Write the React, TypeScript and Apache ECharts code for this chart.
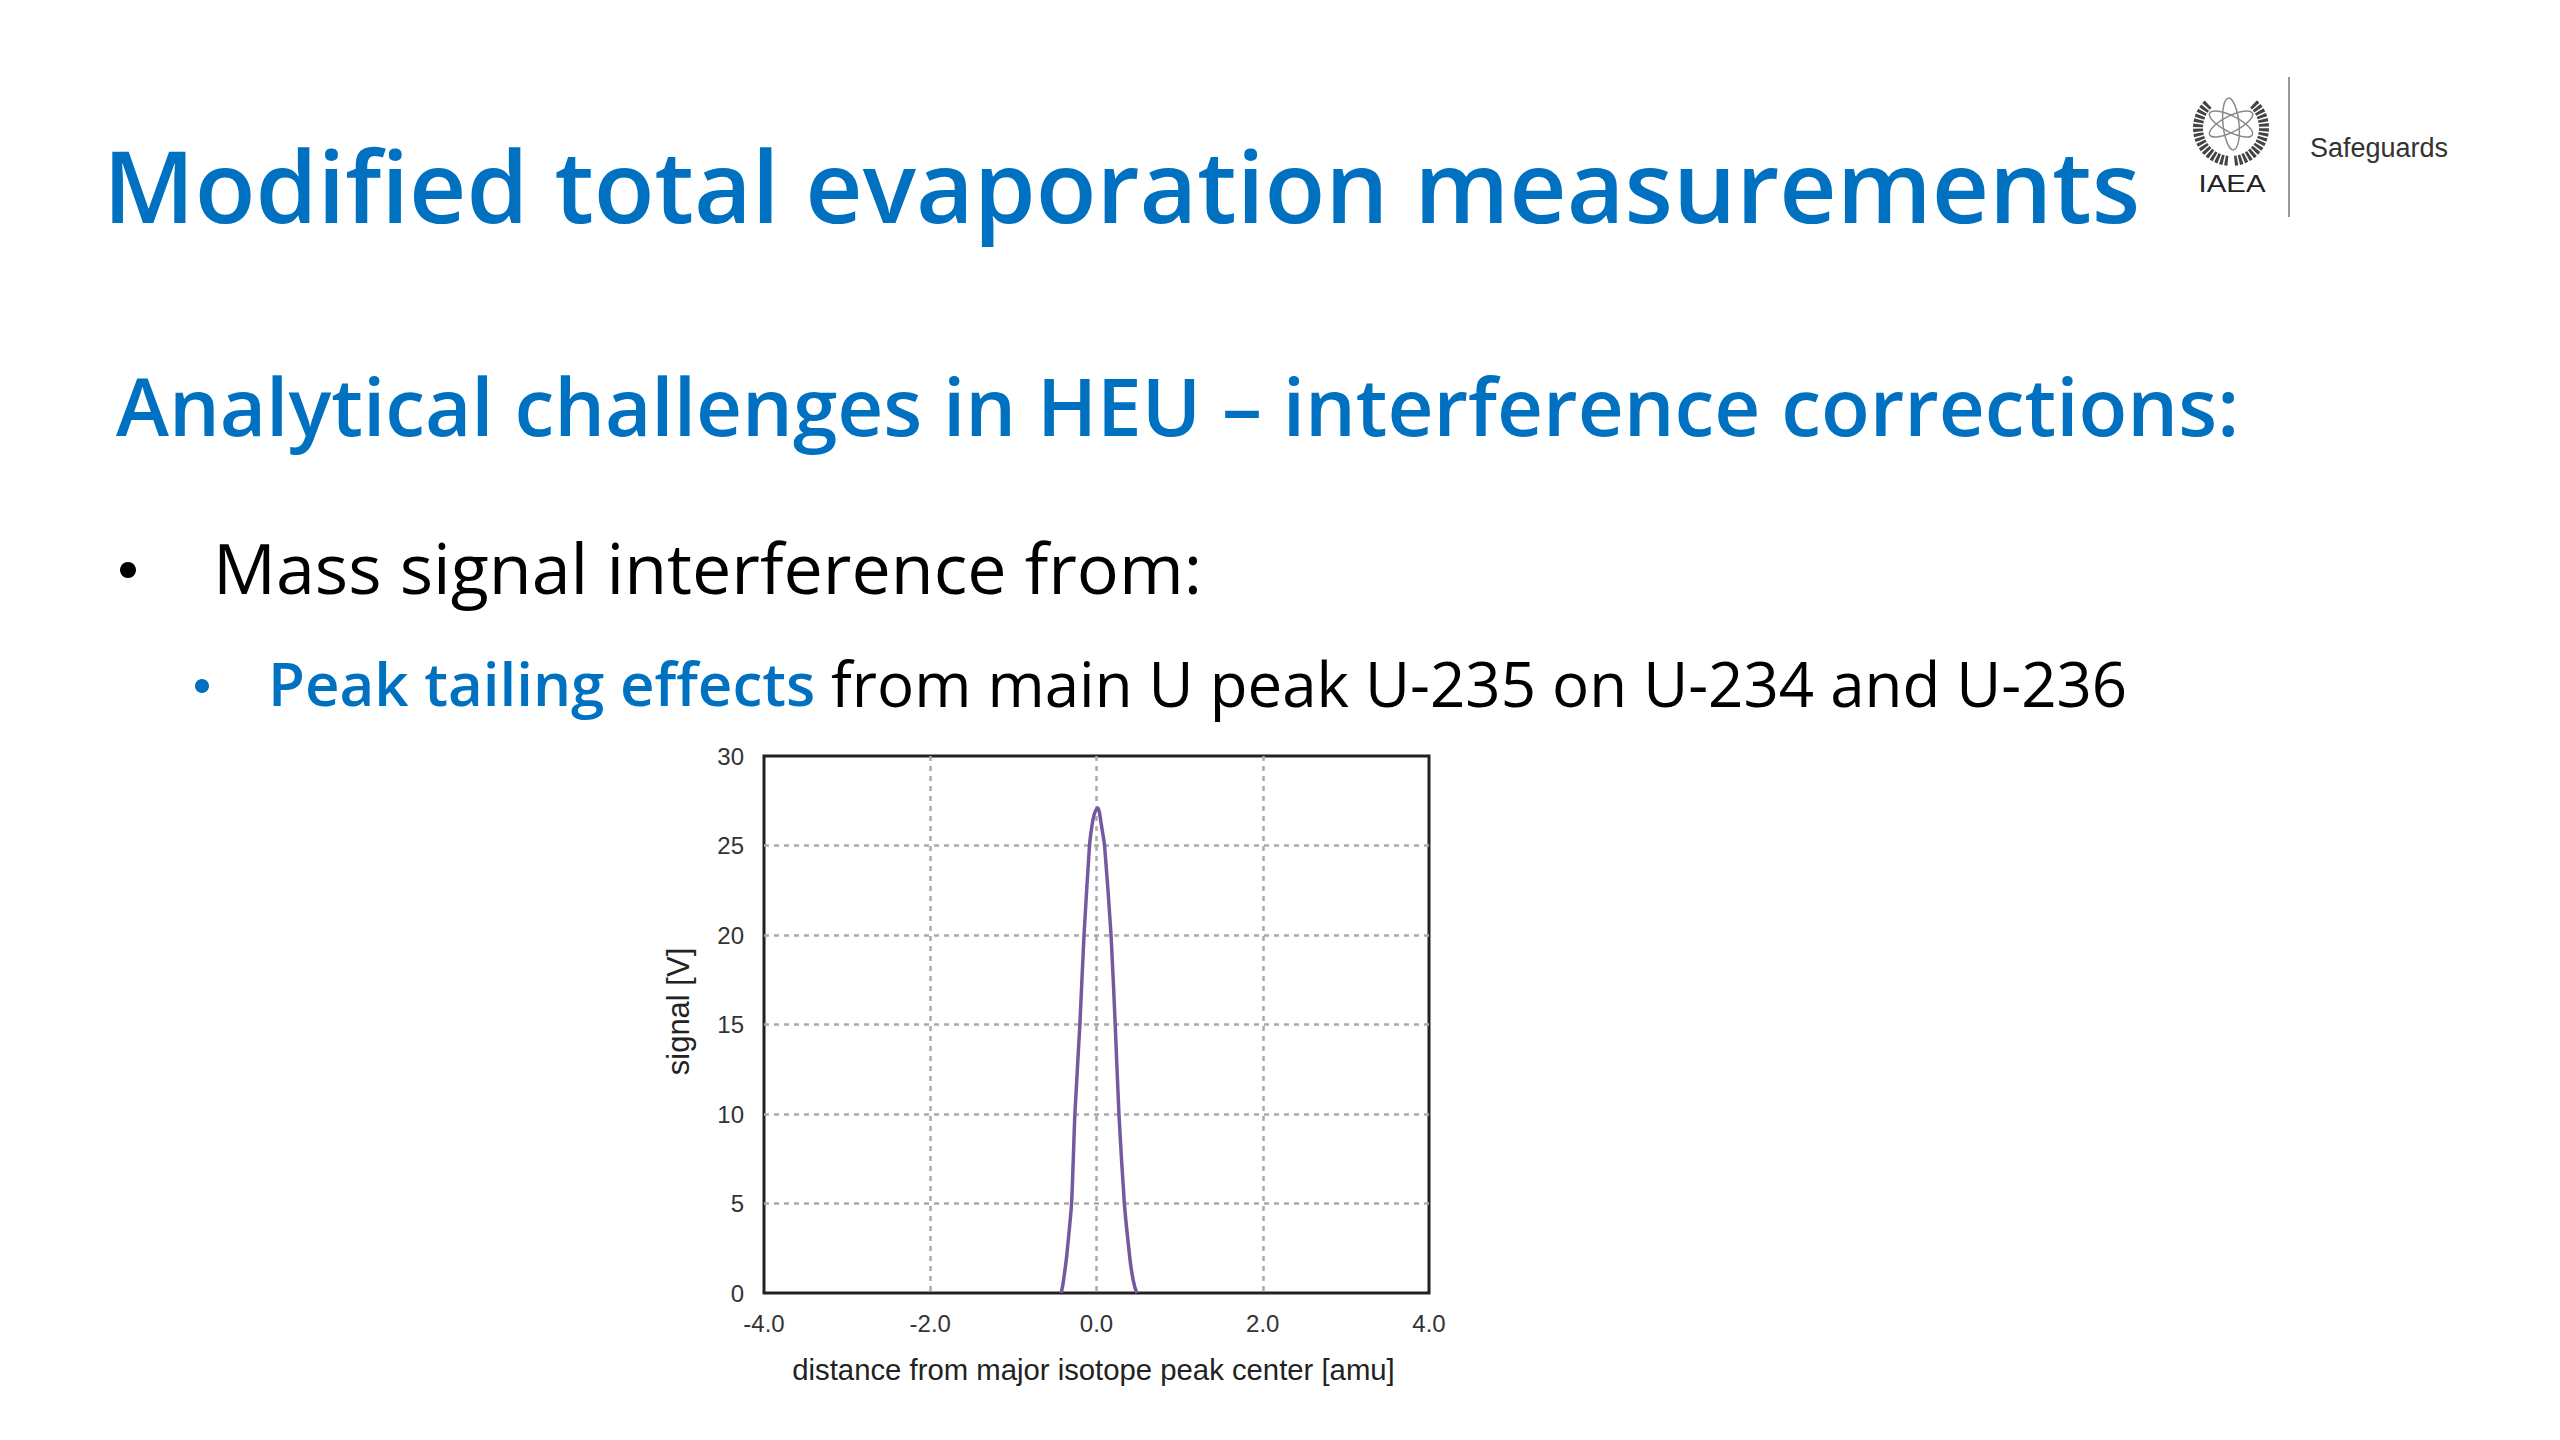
import React, { useEffect, useRef } from "react";
import * as echarts from "echarts";

const titleText = "Modified total evaporation measurements";
const subtitleText = "Analytical challenges in HEU – interference corrections:";
const bulletText = "Mass signal interference from:";
const subBulletLead = "Peak tailing effects";
const subBulletRest = "from main U peak U-235 on U-234 and U-236";
const xAxisName = "distance from major isotope peak center [amu]";
const yAxisName = "signal [V]";

const distance = [-0.425, -0.405, -0.385, -0.36, -0.3, -0.26, -0.2, -0.15, -0.084, -0.055, -0.03, -0.005, 0.015, 0.035, 0.06, 0.097, 0.175, 0.225, 0.27, 0.335, 0.4, 0.43, 0.46, 0.485];
const signal = [0, 0.45, 1.1, 2, 5, 10, 15, 20, 25, 26.1, 26.7, 27.0, 27.1, 26.85, 26.1, 25, 20, 15, 10, 5, 2, 1.0, 0.35, 0];

const FONT = "'Open Sans', 'Noto Sans', sans-serif";
const BLUE = "#0070C0";

export default function App() {
  const ref = useRef<HTMLDivElement>(null);
  useEffect(() => {
    const chart = echarts.init(ref.current!, undefined, { renderer: "svg", width: 2560, height: 1440 });
    const leafArc = (side: number) => ({
      type: "arc",
      shape: {
        cx: 2231, cy: 128, r: 33,
        startAngle: side < 0 ? Math.PI * 0.53 : Math.PI * 1.74,
        endAngle: side < 0 ? Math.PI * 1.26 : Math.PI * 0.47,
      },
      style: { stroke: "#444", fill: "none", lineWidth: 10, lineDash: [3, 1.5] },
    });
    const orbit = (rx: number, ry: number, rotation: number) => ({
      type: "ellipse",
      x: 2231, y: 124, rotation,
      shape: { cx: 0, cy: 0, rx, ry },
      style: { stroke: "#8a8a8a", fill: "none", lineWidth: 1.5 },
    });
    chart.setOption({
      animation: false,
      backgroundColor: "#fff",
      grid: { left: 764, right: 1131, top: 756, bottom: 147, show: true, borderColor: "#222", borderWidth: 3, backgroundColor: "transparent" },
      xAxis: {
        type: "value", min: -4, max: 4, interval: 2,
        name: xAxisName, nameLocation: "middle", nameGap: 62,
        nameTextStyle: { fontFamily: "'Liberation Sans'", fontSize: 29.3, color: "#222", padding: [0, 6, 0, 0] },
        axisLine: { show: false }, axisTick: { show: false },
        axisLabel: { fontFamily: "'Liberation Sans'", fontSize: 24, color: "#333", margin: 18, formatter: (v: number) => v.toFixed(1) },
        splitLine: { show: true, showMinLine: false, showMaxLine: false, lineStyle: { color: "#aaa", type: [5, 5], width: 2.5 } },
      },
      yAxis: {
        type: "value", min: 0, max: 30, interval: 5,
        name: yAxisName, nameLocation: "middle", nameGap: 70,
        nameTextStyle: { fontFamily: "'Liberation Sans'", fontSize: 31, color: "#222", padding: [0, 0, 0, 26] },
        axisLine: { show: false }, axisTick: { show: false },
        axisLabel: { fontFamily: "'Liberation Sans'", fontSize: 24, color: "#333", margin: 20 },
        splitLine: { show: true, showMinLine: false, showMaxLine: false, lineStyle: { color: "#aaa", type: [5, 5], width: 2.5 } },
      },
      series: [{
        type: "line", smooth: 0.2, showSymbol: false,
        data: distance.map((d, i) => [d, signal[i]]),
        lineStyle: { color: "#7359A0", width: 3.5 },
      }],
      graphic: [
        { type: "text", x: 103, y: 184, style: { text: titleText, font: `600 99.6px ${FONT}`, fill: BLUE, textVerticalAlign: "middle" } },
        { type: "text", x: 116, y: 404, style: { text: subtitleText, font: `600 80px ${FONT}`, fill: BLUE, textVerticalAlign: "middle" } },
        { type: "circle", shape: { cx: 128, cy: 570, r: 8 }, style: { fill: "#000" } },
        { type: "text", x: 213, y: 567, style: { text: bulletText, font: `400 70px ${FONT}`, fill: "#000", textVerticalAlign: "middle" } },
        { type: "circle", shape: { cx: 202, cy: 686, r: 7 }, style: { fill: BLUE } },
        { type: "text", x: 268, y: 683, style: { text: subBulletLead, font: `600 60px ${FONT}`, fill: BLUE, textVerticalAlign: "middle" } },
        { type: "text", x: 831, y: 683, style: { text: subBulletRest, font: `400 61.8px ${FONT}`, fill: "#000", textVerticalAlign: "middle" } },
        leafArc(-1), leafArc(1),
        orbit(8, 26, 0.1), orbit(8, 24, 1.1), orbit(8, 24, -1.1),
        { type: "text", x: 2232, y: 184, scaleX: 1.28, style: { text: "IAEA", font: "23px 'Liberation Sans'", fill: "#222", textAlign: "center", textVerticalAlign: "middle" } },
        { type: "line", shape: { x1: 2289, y1: 77, x2: 2289, y2: 217 }, style: { stroke: "#777", lineWidth: 1.5 } },
        { type: "text", x: 2310, y: 148, style: { text: "Safeguards", font: "27px 'Liberation Sans'", fill: "#333", textVerticalAlign: "middle" } },
      ],
    });
    return () => chart.dispose();
  }, []);
  return <div ref={ref} style={{ position: "fixed", left: 0, top: 0, width: 2560, height: 1440 }} />;
}
